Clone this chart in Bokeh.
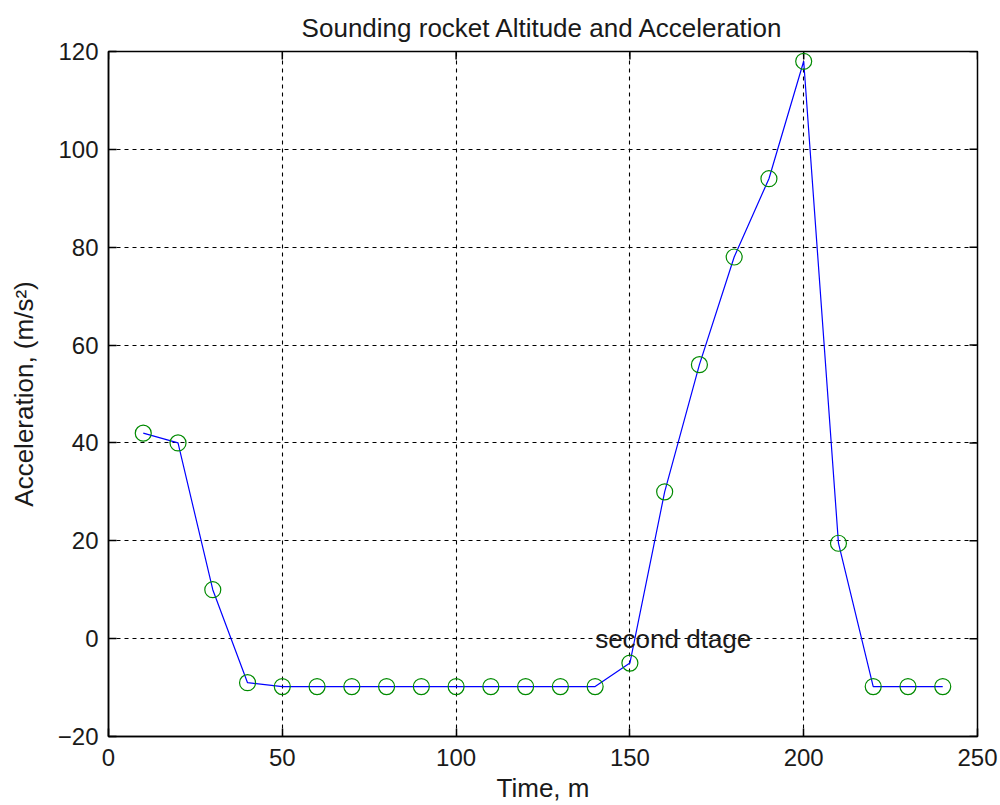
import math
from bokeh.plotting import figure
from bokeh.models import FixedTicker, Range1d
from bokeh.core.properties import value
from bokeh.embed import file_html
from bokeh.resources import INLINE

# ---- data ----
time = [10, 20, 30, 40, 50, 60, 70, 80, 90, 100, 110, 120, 130, 140,
        150, 160, 170, 180, 190, 200, 210, 220, 230, 240]
accel = [42, 40, 10, -9, -9.8, -9.8, -9.8, -9.8, -9.8, -9.8, -9.8, -9.8, -9.8, -9.8,
         -5, 30, 56, 78, 94, 118, 19.5, -9.8, -9.8, -9.8]
x_ticks = [0, 50, 100, 150, 200, 250]
y_ticks = [-20, 0, 20, 40, 60, 80, 100, 120]
annot_x = [140]
annot_y = [0]
annot_text = ["second dtage"]
title_text = "Sounding rocket Altitude and Acceleration"
x_label = "Time, m"
y_label = "Acceleration, (m/s²)"

X_MIN, X_MAX = 0, 250
Y_MIN, Y_MAX = -20, 120

FONT = "Liberation Sans"
TICK_FS = "24px"
TEXT_FS = "26px"
TXT_COL = "#1a1a1a"

p = figure(width=1000, height=805, output_backend="svg", toolbar_location=None,
           x_range=Range1d(X_MIN, X_MAX), y_range=Range1d(Y_MIN, Y_MAX),
           min_border_left=108, min_border_right=23, min_border_top=51, min_border_bottom=69,
           background_fill_color="white", border_fill_color="white")

p.title.text = title_text
p.title.align = "center"
p.title.text_font = FONT
p.title.text_font_size = TEXT_FS
p.title.text_font_style = "normal"
p.title.text_color = TXT_COL
p.title.offset = 0
p.title.standoff = 17

p.outline_line_color = "black"
p.outline_line_width = 1.5

for ax, ticks in ((p.xaxis[0], x_ticks), (p.yaxis[0], y_ticks)):
    ax.ticker = FixedTicker(ticks=ticks)
    ax.major_tick_in = 8
    ax.major_tick_out = 0
    ax.minor_tick_line_color = None
    ax.axis_line_color = "black"
    ax.axis_line_width = 1.5
    ax.major_tick_line_color = "black"
    ax.major_tick_line_width = 1.5
    ax.major_label_text_font = FONT
    ax.major_label_text_font_size = TICK_FS
    ax.major_label_text_color = TXT_COL
    ax.axis_label_text_font = FONT
    ax.axis_label_text_font_size = TEXT_FS
    ax.axis_label_text_font_style = "normal"
    ax.axis_label_text_color = TXT_COL

p.xaxis[0].axis_label = x_label
p.yaxis[0].axis_label = y_label
p.xaxis[0].major_label_standoff = 12
p.xaxis[0].axis_label_standoff = 4
p.xaxis[0].axis_label_text_line_height = 1.0
p.xaxis[0].major_label_text_line_height = 1.0
p.yaxis[0].major_label_standoff = 10
p.yaxis[0].axis_label_standoff = 16

for g in (p.xgrid[0], p.ygrid[0]):
    g.grid_line_color = "black"
    g.grid_line_dash = "4 4"
    g.grid_line_width = 1.1

# inward tick marks on the top and right edges (box on)
p.ray(x=x_ticks, y=[Y_MAX] * len(x_ticks), length=8, length_units="screen",
      angle=-math.pi / 2, line_color="black", line_width=1.5)
p.ray(x=[X_MAX] * len(y_ticks), y=y_ticks, length=8, length_units="screen",
      angle=math.pi, line_color="black", line_width=1.5)

p.line(time, accel, line_color="#0000ff", line_width=1.2)
p.scatter(time, accel, marker="circle", size=16, fill_color=None,
          line_color="#008a00", line_width=1.2)

p.text(x=annot_x, y=annot_y, text=annot_text, text_font=value(FONT),
       text_font_size=TEXT_FS, text_align="left", text_baseline="middle",
       text_color=TXT_COL)

open("out.html", "w").write(file_html(p, INLINE))
